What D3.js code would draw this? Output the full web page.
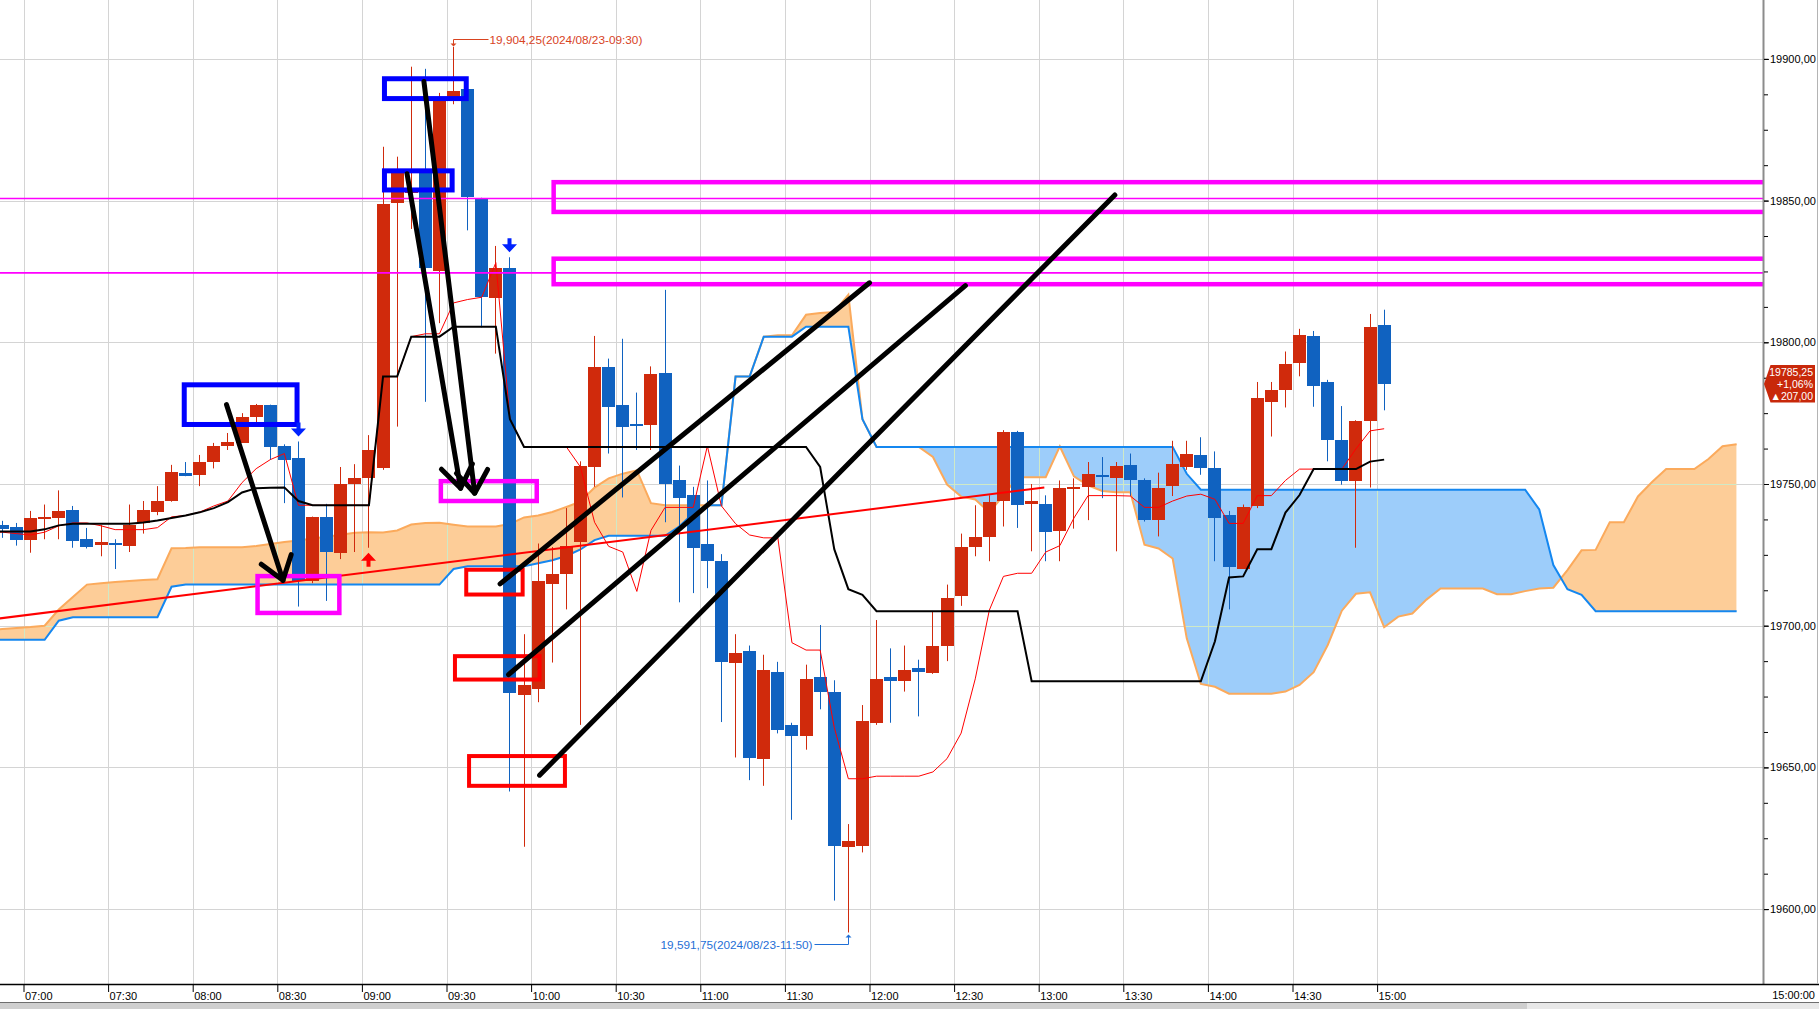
<!DOCTYPE html>
<html>
<head>
<meta charset="utf-8">
<title>5분봉 일목균형표 2024/08/23</title>
<script src="https://d3js.org/d3.v7.min.js"></script>
<style>
  body { margin: 0; background: #fff; overflow: hidden; }
  svg { display: block; font-family: "Liberation Sans", Arial, sans-serif; }
</style>
</head>
<body>
<script>
var W = 1819, H = 1009, plotRight = 1763, plotBottom = 984;

// 5분 슬롯 06:45 ~ 17:05 (구름대는 마지막 봉 뒤로 25칸 더 나감)
var slotTimes = [
  "06:45","06:50","06:55",
  "07:00","07:05","07:10","07:15","07:20","07:25","07:30","07:35","07:40","07:45","07:50","07:55",
  "08:00","08:05","08:10","08:15","08:20","08:25","08:30","08:35","08:40","08:45","08:50","08:55",
  "09:00","09:05","09:10","09:15","09:20","09:25","09:30","09:35","09:40","09:45","09:50","09:55",
  "10:00","10:05","10:10","10:15","10:20","10:25","10:30","10:35","10:40","10:45","10:50","10:55",
  "11:00","11:05","11:10","11:15","11:20","11:25","11:30","11:35","11:40","11:45","11:50","11:55",
  "12:00","12:05","12:10","12:15","12:20","12:25","12:30","12:35","12:40","12:45","12:50","12:55",
  "13:00","13:05","13:10","13:15","13:20","13:25","13:30","13:35","13:40","13:45","13:50","13:55",
  "14:00","14:05","14:10","14:15","14:20","14:25","14:30","14:35","14:40","14:45","14:50","14:55",
  "15:00","15:05","15:10","15:15","15:20","15:25","15:30","15:35","15:40","15:45","15:50","15:55",
  "16:00","16:05","16:10","16:15","16:20","16:25","16:30","16:35","16:40","16:45","16:50","16:55",
  "17:00","17:05"];

// 캔들 06:50 ~ 15:00
var candleTimes = slotTimes.slice(1, 100);
var open = [19735.5, 19734.75, 19730.25, 19738, 19738, 19741, 19730.5, 19728.5, 19729.25, 19728,
  19736.25, 19740.25, 19744, 19754, 19753, 19757.5, 19763.25, 19764.75, 19773.5, 19777.75,
  19763.25, 19759, 19715.75, 19738.25, 19725.75, 19750, 19752, 19755.75, 19849, 19852.5,
  19860, 19825, 19885.5, 19889.5, 19850.5, 19815.5, 19826.25, 19675.5, 19677.75, 19714.75,
  19718, 19729.75, 19756, 19791.25, 19778, 19771, 19770.75, 19789.25, 19751.25, 19746.25,
  19728.75, 19722.75, 19687, 19691, 19652.75, 19683.75, 19665, 19661, 19682, 19676.5,
  19622, 19622, 19665.75, 19681.75, 19680.5, 19685.25, 19683.25, 19692.75, 19710.5, 19727.75,
  19731, 19744, 19768.5, 19743, 19743, 19733.5, 19748.5, 19749, 19753.25, 19752.25,
  19756.75, 19751.5, 19737.25, 19749.25, 19756.25, 19760.25, 19755.5, 19739, 19720.25, 19742,
  19779, 19783.25, 19792.75, 19802.25, 19786, 19765.5, 19751, 19772, 19806];
var high = [19737, 19736.25, 19740.5, 19742.75, 19747.75, 19742.25, 19734.5, 19735.5, 19730.5, 19742.75,
  19744, 19749.25, 19756.75, 19757.75, 19760.25, 19764.5, 19768, 19775, 19778.25, 19778,
  19764, 19765, 19738.5, 19743, 19756, 19757, 19767.25, 19869, 19865.5, 19897.25,
  19896.5, 19888, 19904.25, 19890, 19851, 19834, 19830, 19697, 19729, 19727.75,
  19741.5, 19758, 19802.25, 19794.25, 19801.25, 19782.25, 19791.5, 19818.5, 19756.5, 19749,
  19751.25, 19725.25, 19697, 19693, 19689.75, 19687.25, 19665.75, 19686.25, 19700.25, 19680.75,
  19630, 19672, 19702, 19692, 19693, 19688, 19705, 19714.5, 19732.5, 19742.5,
  19746, 19769, 19768.75, 19750, 19746, 19751.25, 19752, 19757.75, 19759.5, 19757.75,
  19760.75, 19752, 19754, 19765.25, 19765.25, 19766.5, 19761.5, 19740.5, 19742.75, 19786,
  19786, 19796.75, 19804.75, 19804, 19786.75, 19777.5, 19772.5, 19810, 19811.5];
var low = [19731, 19728.25, 19725.75, 19730.5, 19730.5, 19727.5, 19727.25, 19724.5, 19720, 19726,
  19732.5, 19739, 19743.75, 19752.75, 19749.25, 19755.5, 19762, 19764.5, 19771.5, 19758.5,
  19743.25, 19706.75, 19715, 19708.75, 19723.5, 19726, 19727.5, 19755, 19770.25, 19840,
  19779, 19806.75, 19884, 19839.5, 19805.25, 19796, 19641.5, 19622, 19673, 19687,
  19705.75, 19665, 19749, 19760.75, 19745.25, 19762, 19762, 19736.5, 19708.25, 19711.5,
  19713.25, 19666, 19653.5, 19645.5, 19643.5, 19662, 19631.5, 19656.25, 19670.5, 19603,
  19591.75, 19620, 19665, 19665.75, 19676.75, 19668, 19683, 19687.5, 19707, 19724.5,
  19722.75, 19735, 19734.5, 19726.25, 19722.75, 19722.75, 19734.25, 19737.25, 19745, 19726.25,
  19745.75, 19736.75, 19731.5, 19745.75, 19755, 19753.25, 19722.75, 19705.75, 19720, 19741.5,
  19766.75, 19777, 19788, 19777.25, 19758, 19749.75, 19727.5, 19748.75, 19776];
var close = [19734, 19730, 19738, 19738.5, 19740.5, 19730, 19727.75, 19729.5, 19728.5, 19735.5,
  19741, 19744, 19754.25, 19753, 19757.75, 19763.25, 19764.75, 19773.75, 19777.75, 19763,
  19758.25, 19715.75, 19738.25, 19726, 19750, 19752, 19762, 19848.75, 19860, 19854,
  19826, 19885.5, 19888.75, 19851.5, 19815.75, 19826.25, 19676.25, 19679, 19715.75, 19718.25,
  19728, 19756.5, 19791.25, 19777.25, 19770.25, 19770.25, 19788.75, 19750.25, 19744.75, 19727.5,
  19722.75, 19687, 19690.5, 19653.25, 19684.25, 19663.25, 19661, 19681.25, 19676.75, 19622,
  19624, 19666.25, 19681.25, 19680.25, 19684.5, 19683.75, 19692.75, 19709.75, 19727.75, 19731.25,
  19743.5, 19768.5, 19742.75, 19744, 19733, 19748.75, 19749, 19753.5, 19752.75, 19756.5,
  19751.5, 19737.25, 19748.5, 19757, 19760.75, 19755.5, 19737.75, 19720.75, 19742, 19780.25,
  19783.25, 19792.5, 19802.5, 19784.75, 19765.5, 19751, 19772.25, 19805.25, 19785.25];

// 전환선 / 기준선 (06:45 ~ 15:00)
var tenkan = [19733, 19733, 19732.5, 19732, 19733, 19735.25, 19736.25, 19736.25, 19735.25, 19733.9,
  19733.9, 19733.9, 19734.6, 19738.4, 19738.9, 19740.1, 19742.25, 19744, 19750.5, 19755.4,
  19758.6, 19760.75, 19742.5, 19742.5, 19742.5, 19742.5, 19742.5, 19742.5, 19787.9, 19787.9,
  19802, 19803, 19803, 19813.9, 19815.1, 19815.9, 19828.1, 19772.9, 19763.1, 19763.1,
  19763.1, 19763.1, 19756, 19736.5, 19728, 19726, 19712.1, 19733.6, 19741.75, 19741.75,
  19741.75, 19763.4, 19742.25, 19736, 19732, 19731, 19731, 19694, 19691.4, 19691.4,
  19664.1, 19646, 19646, 19646.9, 19646.9, 19646.9, 19646.9, 19648.4, 19653.1, 19662.1,
  19681.25, 19705.5, 19717.4, 19718.5, 19718.5, 19726, 19728.25, 19738, 19745.9, 19745.9,
  19745.9, 19745.75, 19741.75, 19741.75, 19744, 19745.75, 19746.4, 19744.6, 19736.1, 19736.1,
  19745.9, 19745.9, 19751.25, 19755.25, 19755.25, 19755.25, 19755.25, 19762.4, 19768.75, 19769.5];
var kijun = [19733.25, 19733.25, 19733.25, 19733.25, 19734, 19735.4, 19736, 19736, 19736, 19736,
  19736, 19736.4, 19737.1, 19738, 19738.9, 19740, 19741.5, 19743.6, 19747, 19748.5,
  19748.7, 19748.8, 19744, 19742.5, 19742.5, 19742.5, 19742.5, 19742.5, 19787.9, 19787.9,
  19802, 19802, 19802, 19805.5, 19805.5, 19805.5, 19805.5, 19772.9, 19763.1, 19763.1,
  19763.1, 19763.1, 19763.1, 19763.1, 19763.1, 19763.1, 19763.1, 19763.1, 19763.1, 19763.1,
  19763.1, 19763.1, 19763.1, 19763.1, 19763.1, 19763.1, 19763.1, 19763.1, 19763.1, 19756,
  19727, 19712.9, 19710.9, 19705.1, 19705.1, 19705.1, 19705.1, 19705.1, 19705.1, 19705.1,
  19705.1, 19705.1, 19705.1, 19705.1, 19680.4, 19680.4, 19680.4, 19680.4, 19680.4, 19680.4,
  19680.4, 19680.4, 19680.4, 19680.4, 19680.4, 19680.4, 19680.4, 19694.5, 19717, 19717.4,
  19727, 19727, 19739.9, 19746.1, 19755.25, 19755.25, 19755.25, 19755.25, 19757.9, 19758.6];

// 선행스팬 1 (주황) / 선행스팬 2 (파랑), 06:45 ~ 17:05
var spanA = [19698.5, 19698.8, 19699.2, 19699.5, 19700, 19705.7, 19710.1, 19714.5, 19715, 19715.4,
  19715.8, 19716.1, 19716.4, 19727.3, 19727.4, 19727.7, 19727.7, 19727.7, 19727.7, 19728.1,
  19728.8, 19729.5, 19730.1, 19730.8, 19731.4, 19732.1, 19732.8, 19733, 19732.9, 19733.6,
  19735.7, 19736.2, 19736.3, 19735.6, 19735, 19735, 19735, 19735.9, 19738.2, 19738.9,
  19740.1, 19741.9, 19743.8, 19748.75, 19752, 19753.65, 19754.8, 19743.25, 19742.5, 19742.5,
  19742.5, 19742.5, 19742.5, 19787.9, 19787.9, 19802, 19802.5, 19802.5, 19809.7, 19810.3,
  19810.7, 19816.8, 19772.9, 19763.1, 19763.1, 19763.1, 19763.1, 19759.55, 19749.8, 19745.55,
  19744.55, 19740, 19746, 19752.4, 19752.4, 19752.4, 19763.25, 19752.7, 19749.55, 19747.55,
  19747.05, 19747.05, 19728.55, 19727.25, 19723.7, 19695.55, 19679.45, 19678.45, 19676, 19676,
  19676, 19676, 19676.75, 19679.1, 19683.6, 19693.2, 19705.3, 19711.25, 19711.8, 19699.45,
  19703.2, 19704.3, 19709.2, 19713.1, 19713.1, 19713.1, 19713.1, 19711.1, 19711.1, 19712.2,
  19713.1, 19713.4, 19719.6, 19726.6, 19726.75, 19736.5, 19736.5, 19745.6, 19750.7, 19755.25,
  19755.25, 19755.25, 19758.8, 19763.3, 19764.05];
var spanB = [19695, 19695, 19695, 19695, 19695, 19701.75, 19703, 19703, 19703, 19703,
  19703, 19703, 19703, 19713.75, 19714.5, 19714.5, 19714.5, 19714.5, 19714.5, 19714.5,
  19714.5, 19714.5, 19714.5, 19714.5, 19714.5, 19714.5, 19714.5, 19714.5, 19714.5, 19714.5,
  19714.5, 19714.5, 19714.5, 19720, 19721, 19721, 19721, 19721, 19721, 19722,
  19723.1, 19724.6, 19726.9, 19730.2, 19731.75, 19731.75, 19731.75, 19731.75, 19731.75, 19735,
  19739.7, 19742.5, 19742.5, 19787.9, 19787.9, 19802, 19802, 19802, 19805.5, 19805.5,
  19805.5, 19805.5, 19772.9, 19763.1, 19763.1, 19763.1, 19763.1, 19763.1, 19763.1, 19763.1,
  19763.1, 19763.1, 19763.1, 19763.1, 19763.1, 19763.1, 19763.1, 19763.1, 19763.1, 19763.1,
  19763.1, 19763.1, 19763.1, 19763.1, 19763.1, 19753.6, 19748, 19748, 19748, 19748,
  19748, 19748, 19748, 19748, 19748, 19748, 19748, 19748, 19748, 19748,
  19748, 19748, 19748, 19748, 19748, 19748, 19748, 19748, 19748, 19748,
  19741, 19721.4, 19712.9, 19710.9, 19705.1, 19705.1, 19705.1, 19705.1, 19705.1, 19705.1,
  19705.1, 19705.1, 19705.1, 19705.1, 19705.1];

var xTickLabels = ["07:00","07:30","08:00","08:30","09:00","09:30","10:00","10:30","11:00",
  "11:30","12:00","12:30","13:00","13:30","14:00","14:30","15:00"];
var yTicks = [19600, 19650, 19700, 19750, 19800, 19850, 19900];
var yTickLabels = ["19600,00","19650,00","19700,00","19750,00","19800,00","19850,00","19900,00"];

// 손으로 그린 표시들 (시각, 가격)
var trendLine = [["06:51", 19702.5], ["13:02", 19748.75]];
var magentaLines = [19850.75, 19824.5];
var blueBoxes = [["07:57", 19785, "08:37", 19771], ["09:08", 19893, "09:37", 19886], ["09:08", 19860.5, "09:32", 19853.75]];
var magentaBoxes = [["08:23", 19717.5, "08:52", 19704.5], ["09:28", 19751, "10:02", 19744]];
var bigMagentaBoxes = [["10:08", 19856.5, "17:30", 19846], ["10:08", 19829.5, "17:30", 19820.5]];
var redBoxes = [["09:37", 19719.75, "09:57", 19711], ["09:33", 19689.25, "10:03", 19681], ["09:38", 19654, "10:12", 19643.5]];
var arrows = [[["08:12", 19778], ["08:32", 19716]], [["09:16", 19859.5], ["09:35", 19748.5]], [["09:22", 19892], ["09:40", 19746.75]]];
var channels = [[["09:49", 19714.75], ["12:00", 19821]], [["09:52", 19682.75], ["12:34", 19820]], [["10:03", 19647.25], ["13:27", 19852]]];
var sellSignals = ["08:35", "09:50"];
var buySignals = ["09:00"];
var lastPrice = ["19785,25", "+1,06%", "\u25B2207,00"];

var RED = "#d02a0c", BLUE = "#1062c0";

function tMin(t) { var p = t.split(":"); return +p[0] * 60 + +p[1] - 420; }

var x = d3.scaleLinear().domain([0, 480]).range([23.5, 1377.1]);
var y = d3.scaleLinear().domain([19600, 19900]).range([909.1, 58.9]);
function cx(t) { return x(tMin(t) + 2.5); }
function px(t) { return x(tMin(t)); }

var svg = d3.select("body").append("svg").attr("width", W).attr("height", H);
var defs = svg.append("defs");
defs.append("clipPath").attr("id", "plot").append("rect").attr("width", plotRight).attr("height", plotBottom);

svg.append("rect").attr("width", W).attr("height", H).attr("fill", "#fff");

var plot = svg.append("g").attr("clip-path", "url(#plot)");

function drawGrid(g, color) {
  g.selectAll(null).data(xTickLabels).enter().append("line")
    .attr("x1", function(d) { return Math.round(px(d)) + 0.5; })
    .attr("x2", function(d) { return Math.round(px(d)) + 0.5; })
    .attr("y1", 0).attr("y2", plotBottom)
    .attr("stroke", color);
  g.selectAll(null).data(yTicks).enter().append("line")
    .attr("x1", 0).attr("x2", plotRight)
    .attr("y1", function(d) { return Math.round(y(d)) + 0.5; })
    .attr("y2", function(d) { return Math.round(y(d)) + 0.5; })
    .attr("stroke", color);
}
drawGrid(plot.append("g"), "#d4d4d4");

// 구름대
var idx = d3.range(slotTimes.length);
function sx(i) { return cx(slotTimes[i]); }
var cloud = d3.area().x(sx).y0(function(i) { return y(spanA[i]); }).y1(function(i) { return y(spanB[i]); });
var aboveB = d3.area().x(sx).y0(-10).y1(function(i) { return y(spanB[i]); });
var belowB = d3.area().x(sx).y0(plotBottom + 10).y1(function(i) { return y(spanB[i]); });
defs.append("clipPath").attr("id", "aboveB").append("path").attr("d", aboveB(idx));
defs.append("clipPath").attr("id", "belowB").append("path").attr("d", belowB(idx));
defs.append("clipPath").attr("id", "cloudClip").append("path").attr("d", cloud(idx));

plot.append("g").attr("clip-path", "url(#aboveB)")
  .append("path").attr("d", cloud(idx)).attr("fill", "#fdcd98");
plot.append("g").attr("clip-path", "url(#belowB)")
  .append("path").attr("d", cloud(idx)).attr("fill", "#9dcdfa");
drawGrid(plot.append("g").attr("clip-path", "url(#cloudClip)"), "#cfe9c6");

var lineA = d3.line().x(sx).y(function(i) { return y(spanA[i]); });
var lineB = d3.line().x(sx).y(function(i) { return y(spanB[i]); });
plot.append("path").attr("d", lineA(idx)).attr("fill", "none").attr("stroke", "#fbaa5c").attr("stroke-width", 2);
plot.append("path").attr("d", lineB(idx)).attr("fill", "none").attr("stroke", "#1487f0").attr("stroke-width", 2);

// 캔들
var candles = candleTimes.map(function(t, i) {
  return { t: t, o: open[i], h: high[i], l: low[i], c: close[i] };
});
function col(d) { return d.c >= d.o ? RED : BLUE; }
var cg = plot.append("g");
cg.selectAll(null).data(candles).enter().append("line")
  .attr("x1", function(d) { return Math.floor(cx(d.t)) + 0.5; })
  .attr("x2", function(d) { return Math.floor(cx(d.t)) + 0.5; })
  .attr("y1", function(d) { return y(d.h); })
  .attr("y2", function(d) { return y(d.l); })
  .attr("stroke", col);
cg.selectAll(null).data(candles).enter().append("rect")
  .attr("x", function(d) { return Math.floor(cx(d.t)) - 6; })
  .attr("width", 13)
  .attr("y", function(d) { return Math.round(y(Math.max(d.o, d.c))); })
  .attr("height", function(d) { return Math.max(2, Math.round(Math.abs(y(d.o) - y(d.c)))); })
  .attr("fill", col)
  .attr("shape-rendering", "crispEdges");

// 전환선, 기준선
var lineT = d3.line().x(function(d, i) { return sx(i); }).y(function(d) { return y(d); });
plot.append("path").attr("d", lineT(tenkan)).attr("fill", "none").attr("stroke", "#ff0000").attr("stroke-width", 1);
plot.append("path").attr("d", lineT(kijun)).attr("fill", "none").attr("stroke", "#000").attr("stroke-width", 2);

// 추세선
plot.append("line")
  .attr("x1", px(trendLine[0][0])).attr("y1", y(trendLine[0][1]))
  .attr("x2", px(trendLine[1][0])).attr("y2", y(trendLine[1][1]))
  .attr("stroke", "#ff0000").attr("stroke-width", 2);

// 수평선
plot.selectAll(null).data(magentaLines).enter().append("line")
  .attr("x1", 0).attr("x2", plotRight)
  .attr("y1", function(d) { return y(d); }).attr("y2", function(d) { return y(d); })
  .attr("stroke", "#ff00ff").attr("stroke-width", 1.6);

function boxes(data, color, sw) {
  plot.selectAll(null).data(data).enter().append("rect")
    .attr("x", function(d) { return px(d[0]); })
    .attr("y", function(d) { return y(d[1]); })
    .attr("width", function(d) { return px(d[2]) - px(d[0]); })
    .attr("height", function(d) { return y(d[3]) - y(d[1]); })
    .attr("fill", "none").attr("stroke", color).attr("stroke-width", sw);
}
boxes(bigMagentaBoxes, "#ff00ff", 4.5);
boxes(magentaBoxes, "#ff00ff", 4.5);
boxes(redBoxes, "#ff0000", 4);
boxes(blueBoxes, "#0000ff", 5);

// 검은 화살표 / 채널선
plot.selectAll(null).data(channels).enter().append("line")
  .attr("x1", function(d) { return px(d[0][0]); }).attr("y1", function(d) { return y(d[0][1]); })
  .attr("x2", function(d) { return px(d[1][0]); }).attr("y2", function(d) { return y(d[1][1]); })
  .attr("stroke", "#000").attr("stroke-width", 5).attr("stroke-linecap", "round");

arrows.forEach(function(a) {
  var x1 = px(a[0][0]), y1 = y(a[0][1]), x2 = px(a[1][0]), y2 = y(a[1][1]);
  var ang = Math.atan2(y2 - y1, x2 - x1), L = 27, s = 0.62;
  var head = [[x2 - L * Math.cos(ang - s), y2 - L * Math.sin(ang - s)], [x2, y2],
              [x2 - L * Math.cos(ang + s), y2 - L * Math.sin(ang + s)]];
  plot.append("line").attr("x1", x1).attr("y1", y1).attr("x2", x2).attr("y2", y2)
    .attr("stroke", "#000").attr("stroke-width", 5).attr("stroke-linecap", "round");
  plot.append("path").attr("d", d3.line()(head)).attr("fill", "none")
    .attr("stroke", "#000").attr("stroke-width", 5).attr("stroke-linecap", "round").attr("stroke-linejoin", "round");
});

// 매매 신호
function candleAt(t) { return candles[candleTimes.indexOf(t)]; }
sellSignals.forEach(function(t) {
  var c = Math.floor(cx(t)) + 0.5, tip = y(candleAt(t).h) - 5;
  plot.append("path").attr("fill", "#0022ff")
    .attr("d", "M" + (c - 2) + "," + (tip - 14) + "h4v6h5.5l-7.5,8l-7.5,-8h5.5z");
});
buySignals.forEach(function(t) {
  var c = Math.floor(cx(t)) + 0.5, tip = y(candleAt(t).l) + 5;
  plot.append("path").attr("fill", "#ff0000")
    .attr("d", "M" + c + "," + tip + "l7.5,8h-5.5v6h-4v-6h-5.5z");
});

// 최고가 / 최저가 표시
var hi = candles[d3.maxIndex(candles, function(d) { return d.h; })];
var lo = candles[d3.minIndex(candles, function(d) { return d.l; })];
var hx = Math.floor(cx(hi.t)) + 0.5, hy = Math.round(y(hi.h)) - 7.5;
plot.append("path").attr("fill", "none").attr("stroke", "#d8431f")
  .attr("d", "M" + (hx + 35) + "," + hy + "H" + hx + "V" + (hy + 6));
plot.append("path").attr("fill", "#d8431f").attr("d", "M" + (hx - 3) + "," + (hy + 4) + "h6l-3,3z");
plot.append("text").attr("x", hx + 36).attr("y", hy).attr("dy", "0.35em")
  .attr("font-size", 11.8).attr("fill", "#d8431f")
  .text("19,904,25(2024/08/23-09:30)");

var lx = Math.floor(cx(lo.t)) + 0.5, ly = Math.round(y(lo.l)) + 12.5;
plot.append("path").attr("fill", "none").attr("stroke", "#1f6fd6")
  .attr("d", "M" + (lx - 34) + "," + ly + "H" + lx + "V" + (ly - 8));
plot.append("path").attr("fill", "#1f6fd6").attr("d", "M" + (lx - 3) + "," + (ly - 7) + "h6l-3,-3z");
plot.append("text").attr("x", lx - 36).attr("y", ly).attr("dy", "0.35em")
  .attr("text-anchor", "end").attr("font-size", 11.8).attr("fill", "#1f6fd6")
  .text("19,591,75(2024/08/23-11:50)");

// 축
svg.append("line").attr("x1", plotRight + 0.5).attr("x2", plotRight + 0.5).attr("y1", 0).attr("y2", plotBottom)
  .attr("stroke", "#8c8c8c").attr("stroke-width", 2);
svg.append("line").attr("x1", 0).attr("x2", W).attr("y1", plotBottom + 0.5).attr("y2", plotBottom + 0.5)
  .attr("stroke", "#000").attr("stroke-width", 1.5);

var yAxis = d3.axisRight(y).tickValues(yTicks)
  .tickFormat(function(d, i) { return yTickLabels[i]; }).tickSize(5).tickPadding(1);
var gy = svg.append("g").attr("transform", "translate(" + (plotRight + 1) + ",0)").call(yAxis)
  .attr("font-size", 11).attr("font-family", "Liberation Sans, Arial, sans-serif");
gy.select(".domain").remove();

var yMinor = d3.axisRight(y).tickValues(d3.range(19600, 19900.1, 12.5)).tickFormat("").tickSize(4);
var gm = svg.append("g").attr("transform", "translate(" + (plotRight + 1) + ",0)").call(yMinor);
gm.select(".domain").remove();

var xAxis = d3.axisBottom(x).tickValues(xTickLabels.map(tMin))
  .tickFormat(function(d, i) { return xTickLabels[i]; }).tickSize(8).tickPadding(0);
var gx = svg.append("g").attr("transform", "translate(0," + plotBottom + ")").call(xAxis)
  .attr("font-size", 11).attr("font-family", "Liberation Sans, Arial, sans-serif");
gx.select(".domain").remove();
gx.selectAll("text").attr("text-anchor", "start").attr("x", 1);

svg.append("text").attr("x", 1815).attr("y", 999).attr("text-anchor", "end")
  .attr("font-size", 11).text("15:00:00");

// 현재가 박스
var py = y(close[close.length - 1]);
svg.append("path").attr("fill", "#c8280a")
  .attr("d", "M1770.5," + (py - 19) + "H1815V" + (py + 18.5) + "H1770.5L1764," + py + "z");
svg.selectAll(null).data(lastPrice).enter().append("text")
  .attr("x", 1813).attr("y", function(d, i) { return py - 12 + i * 12.3; })
  .attr("dy", "0.35em").attr("text-anchor", "end")
  .attr("font-size", 10.5).attr("fill", "#fff")
  .text(function(d) { return d; });

// 하단 스크롤바
svg.append("rect").attr("x", 0).attr("y", 1002).attr("width", W).attr("height", 1).attr("fill", "#6e6e6e");
svg.append("rect").attr("x", 0).attr("y", 1003).attr("width", W).attr("height", 6).attr("fill", "#cfcfcf");
svg.append("rect").attr("x", 1527).attr("y", 1003).attr("width", 292).attr("height", 6).attr("fill", "#e8e8e8");
svg.append("line").attr("x1", 1817.5).attr("x2", 1817.5).attr("y1", 0).attr("y2", plotBottom).attr("stroke", "#b4b4b4");
</script>
</body>
</html>
